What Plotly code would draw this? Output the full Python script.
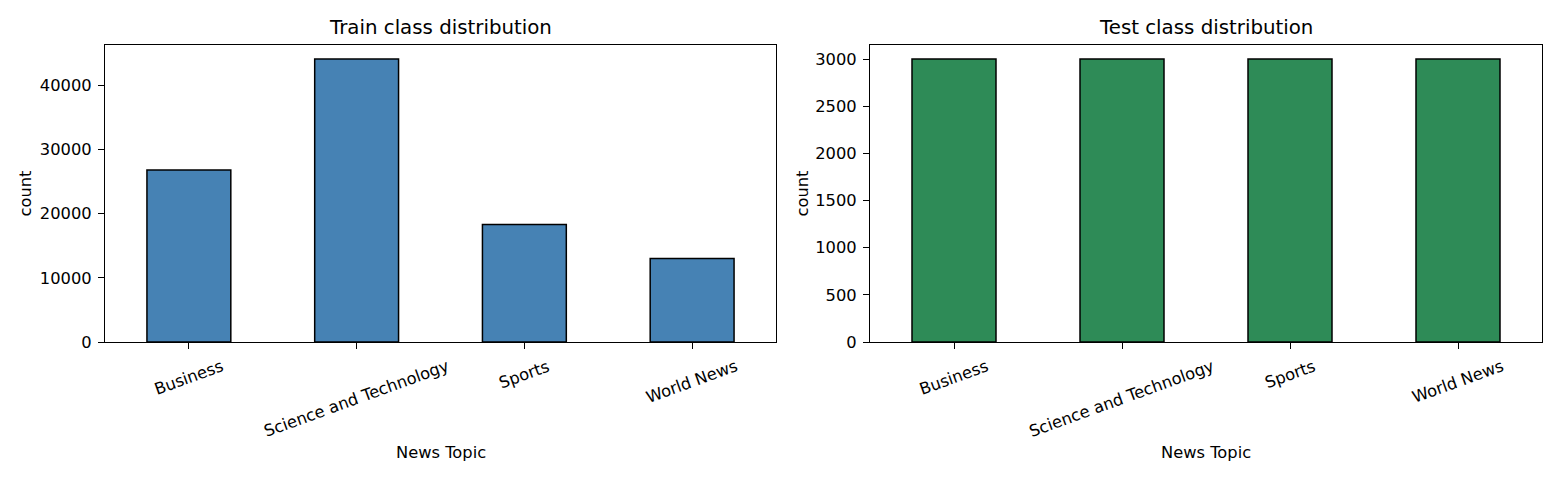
import plotly.graph_objects as go

categories = ["Business", "Science and Technology", "Sports", "World News"]
train_counts = [26800, 44100, 18300, 13000]
test_counts = [3000, 3000, 3000, 3000]
train_ticks = [0, 10000, 20000, 30000, 40000]
test_ticks = [0, 500, 1000, 1500, 2000, 2500, 3000]

W, H = 1560, 480
S = 0.982  # observed vertical render scale
FONT = "DejaVu Sans"
TICK = 16.3
fig = go.Figure()

fig.add_trace(go.Bar(x=list(range(4)), y=train_counts, width=0.5,
                     marker=dict(color="#4682B4", line=dict(color="black", width=1.5)),
                     xaxis="x", yaxis="y", showlegend=False))
fig.add_trace(go.Bar(x=list(range(4)), y=test_counts, width=0.5,
                     marker=dict(color="#2E8B57", line=dict(color="black", width=1.5)),
                     xaxis="x2", yaxis="y2", showlegend=False))

def px_x(p):
    return p / W

def px_y(p):
    return 1 - (p / S) / H

dom1 = [px_x(105), px_x(776)]
dom2 = [px_x(870), px_x(1542)]
ydom = [px_y(343), px_y(45)]

axcommon = dict(showline=True, linecolor="black", linewidth=1.2, mirror=True,
                showgrid=False, zeroline=False, ticks="outside", ticklen=6,
                tickwidth=1.2, tickcolor="black", ticklabelstandoff=3,
                tickfont=dict(family=FONT, size=TICK, color="black"))

fig.update_layout(
    width=W, height=H, margin=dict(l=0, r=0, t=0, b=0),
    paper_bgcolor="white", plot_bgcolor="white",
    xaxis=dict(domain=dom1, range=[-0.5, 3.5], tickvals=list(range(4)),
               showticklabels=False, anchor="y", **axcommon),
    yaxis=dict(domain=ydom, range=[0, max(train_counts) * 1.05], tickvals=train_ticks,
               ticktext=[str(v) for v in train_ticks], anchor="x", **axcommon),
    xaxis2=dict(domain=dom2, range=[-0.5, 3.5], tickvals=list(range(4)),
                showticklabels=False, anchor="y2", **axcommon),
    yaxis2=dict(domain=ydom, range=[0, max(test_counts) * 1.05], tickvals=test_ticks,
                ticktext=[str(v) for v in test_ticks], anchor="x2", **axcommon),
)

ann = []
for xr, title in [("x", "Train class distribution"), ("x2", "Test class distribution")]:
    dom = dom1 if xr == "x" else dom2
    ann.append(dict(text=title, x=(dom[0] + dom[1]) / 2, y=px_y(28), xref="paper", yref="paper",
                    showarrow=False, xanchor="center", yanchor="middle",
                    font=dict(family=FONT, size=19.8, color="black")))
    ann.append(dict(text="News Topic", x=(dom[0] + dom[1]) / 2, y=px_y(454), xref="paper", yref="paper",
                    showarrow=False, xanchor="center", yanchor="middle",
                    font=dict(family=FONT, size=TICK, color="black")))
    for i, c in enumerate(categories):
        ann.append(dict(text=c, x=i, y=px_y(355), xref=xr, yref="paper",
                        showarrow=False, xanchor="center", yanchor="top", textangle=-20,
                        font=dict(family=FONT, size=TICK, color="black")))
for xc in [25, 802]:
    ann.append(dict(text="count", x=px_x(xc), y=px_y(194), xref="paper", yref="paper",
                    showarrow=False, xanchor="center", yanchor="middle", textangle=-90,
                    font=dict(family=FONT, size=TICK, color="black")))
fig.update_layout(annotations=ann)

fig.write_html("out.html")
